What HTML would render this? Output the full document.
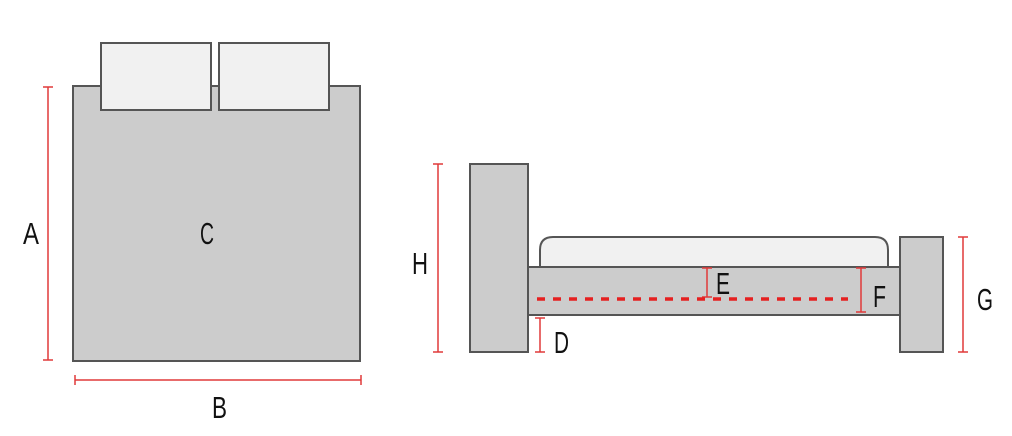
<!DOCTYPE html>
<html><head><style>
html,body{margin:0;padding:0;background:#fff;}
svg text{font-family:"Liberation Sans Narrow","Liberation Sans",sans-serif;font-size:31px;fill:#111;}
</style></head><body>
<svg width="1012" height="431" viewBox="0 0 1012 431" xmlns="http://www.w3.org/2000/svg">
<g stroke="#555" stroke-width="2">
<rect x="73" y="86" width="287" height="275" fill="#cccccc"/>
<rect x="101" y="43" width="110" height="67" fill="#f1f1f1"/>
<rect x="219" y="43" width="110" height="67" fill="#f1f1f1"/>
<rect x="470" y="164" width="58" height="188" fill="#cccccc"/>
<path d="M540 267 V250 Q540 237 553 237 H875 Q888 237 888 250 V267" fill="#f1f1f1"/>
<rect x="528" y="267" width="372" height="48" fill="#cccccc"/>
<rect x="900" y="237" width="43" height="115" fill="#cccccc"/>
</g>
<g stroke="#e03a3a" stroke-width="1.5" fill="none">
<path d="M48 87 V360 M43 87 H53 M43 360 H53"/>
<path d="M75 380 H361 M75 375 V385 M361 375 V385"/>
<path d="M438 164 V352 M433 164 H443 M433 352 H443"/>
<path d="M963 237 V352 M958 237 H968 M958 352 H968"/>
<path d="M540 318 V352 M535 318 H545 M535 352 H545"/>
<path d="M707 268 V297 M702 268 H712 M702 297 H712"/>
<path d="M861 268 V312 M856 268 H866 M856 312 H866"/>
</g>
<line x1="537" y1="299" x2="848" y2="299" stroke="#e52020" stroke-width="3.5" stroke-dasharray="8 8"/>
<text x="23" y="244" textLength="16" lengthAdjust="spacingAndGlyphs">A</text>
<text x="200" y="244" textLength="14" lengthAdjust="spacingAndGlyphs">C</text>
<text x="212" y="418" textLength="15" lengthAdjust="spacingAndGlyphs">B</text>
<text x="412" y="274" textLength="16" lengthAdjust="spacingAndGlyphs">H</text>
<text x="554" y="353" textLength="15" lengthAdjust="spacingAndGlyphs">D</text>
<text x="716" y="294" textLength="14" lengthAdjust="spacingAndGlyphs">E</text>
<text x="873" y="307" textLength="13" lengthAdjust="spacingAndGlyphs">F</text>
<text x="977" y="310" textLength="16" lengthAdjust="spacingAndGlyphs">G</text>
</svg>
</body></html>
